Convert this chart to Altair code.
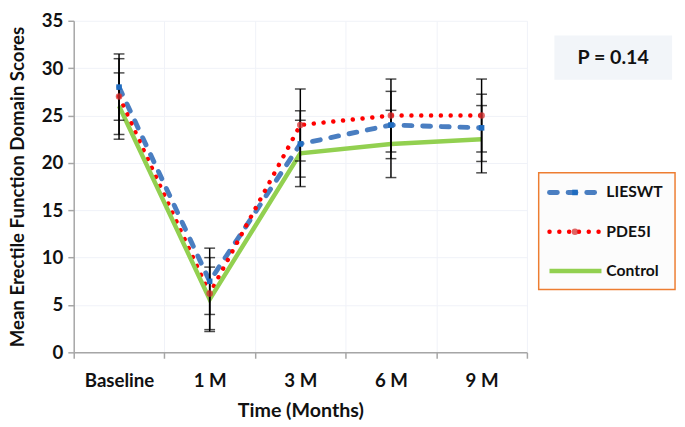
import altair as alt
import pandas as pd

# ---- data ----
times = ["Baseline", "1 M", "3 M", "6 M", "9 M"]
groups = ["LIESWT", "PDE5I", "Control"]
lieswt_mean = [28.0, 7.5, 22.0, 24.0, 23.7]
lieswt_sd = [3.5, 3.5, 3.5, 3.55, 3.55]
pde5i_mean = [27.0, 6.2, 24.0, 25.0, 25.0]
pde5i_sd = [4.0, 3.8, 3.8, 3.85, 3.85]
control_mean = [26.0, 5.6, 21.0, 22.0, 22.5]
control_sd = [3.5, 3.4, 3.5, 3.55, 3.55]
p_label = "P = 0.14"

means = {"LIESWT": lieswt_mean, "PDE5I": pde5i_mean, "Control": control_mean}
sds = {"LIESWT": lieswt_sd, "PDE5I": pde5i_sd, "Control": control_sd}

rows = []
for g in groups:
    for i, t in enumerate(times):
        m, s = means[g][i], sds[g][i]
        rows.append({"group": g, "time": t, "pos": i, "mean": m, "lo": m - s, "hi": m + s})
df = pd.DataFrame(rows)

styles = {
    "LIESWT": dict(color="#4A7EC1", strokeWidth=5, strokeDash=[8, 11], strokeCap="round"),
    "PDE5I": dict(color="#FF0000", strokeWidth=4.5, strokeDash=[0.1, 9.9], strokeCap="round"),
    "Control": dict(color="#92D050", strokeWidth=4.5, strokeCap="butt"),
}
markers = {
    "LIESWT": dict(shape="square", color="#1F6CC0", size=32, opacity=1),
    "PDE5I": dict(shape="circle", color="#D83030", size=45, opacity=0.75),
}

FONT = "Lato"
names_js = "['Baseline','1 M','3 M','6 M','9 M']"
no_view = alt.ViewBackground(stroke="transparent", strokeWidth=0, fill="transparent")

x_enc = alt.X(
    "pos:Q",
    scale=alt.Scale(domain=[-0.5, 4.5], nice=False, zero=False),
    axis=alt.Axis(
        values=[-0.5, 0, 0.5, 1, 1.5, 2, 2.5, 3, 3.5, 4, 4.5],
        labelExpr=f"datum.value % 1 == 0 ? {names_js}[datum.value] : ''",
        tickColor=alt.condition("datum.value % 1 == 0", alt.value("transparent"), alt.value("#A6A6A6")),
        gridColor=alt.condition("datum.value % 1 == 0", alt.value("transparent"), alt.value("#F0F2F8")),
        grid=True,
        tickSize=6,
        tickWidth=1.5,
        domainColor="#A6A6A6",
        domainWidth=1.5,
        labelFont=FONT,
        labelFontWeight="bold",
        labelFontSize=19,
        labelColor="#111111",
        labelPadding=14,
        labelFlush=False,
        title="Time (Months)",
        titleFont=FONT,
        titleFontWeight="bold",
        titleFontSize=20,
        titleColor="#111111",
        titlePadding=10,
    ),
)
y_scale = alt.Scale(domain=[0, 35], nice=False)
y_axis = alt.Axis(
    values=[0, 5, 10, 15, 20, 25, 30, 35],
    grid=True,
    gridColor="#F0F2F8",
    tickColor="#A6A6A6",
    tickSize=6,
    tickWidth=1.5,
    domainColor="#A6A6A6",
    domainWidth=1.5,
    labelFont=FONT,
    labelFontWeight="bold",
    labelFontSize=19,
    labelColor="#111111",
    labelPadding=5,
    title="Mean Erectile Function Domain Scores",
    titleFont=FONT,
    titleFontWeight="bold",
    titleFontSize=19,
    titleColor="#111111",
    titlePadding=14,
)

base = alt.Chart(df)
layers = []
for g in groups:
    st = styles[g]
    layers.append(
        base.transform_filter(alt.datum.group == g)
        .mark_line(**st)
        .encode(x=x_enc, y=alt.Y("mean:Q", scale=y_scale, axis=y_axis))
    )
# error bars
layers.append(
    base.mark_rule(color="#000000", strokeWidth=1.5).encode(
        x="pos:Q", y="lo:Q", y2="hi:Q"
    )
)
layers.append(
    base.mark_tick(color="#000000", orient="horizontal", size=11, thickness=1.5).encode(
        x="pos:Q", y="lo:Q"
    )
)
layers.append(
    base.mark_tick(color="#000000", orient="horizontal", size=11, thickness=1.5).encode(
        x="pos:Q", y="hi:Q"
    )
)
for g, mk in markers.items():
    layers.append(
        base.transform_filter(alt.datum.group == g)
        .mark_point(filled=True, shape=mk["shape"], color=mk["color"], size=mk["size"], opacity=mk["opacity"])
        .encode(x="pos:Q", y="mean:Q")
    )

main = alt.layer(*layers).properties(width=462, height=338, view=no_view)

# ---- side panel: P value box and legend ----
legend_df = pd.DataFrame({"group": groups})
p_df = pd.DataFrame({"label": [p_label]})
ly = alt.Y("group:N", scale=alt.Scale(type="point", domain=groups, range=[175, 255], padding=0), axis=None)

side_layers = [
    alt.Chart(p_df).mark_rect(color="#F2F5F9").encode(
        x=alt.value(20), x2=alt.value(140), y=alt.value(15), y2=alt.value(60)
    ),
    alt.Chart(p_df).mark_text(font=FONT, fontWeight="bold", fontSize=20, color="#111111").encode(
        text="label:N", x=alt.value(80), y=alt.value(38)
    ),
    alt.Chart(p_df).mark_rect(fill="#FCFCFC", stroke="#ED7D31", strokeWidth=1.5).encode(
        x=alt.value(4), x2=alt.value(143), y=alt.value(155), y2=alt.value(274)
    ),
]
for g in groups:
    st = styles[g]
    side_layers.append(
        alt.Chart(legend_df).transform_filter(alt.datum.group == g)
        .mark_rule(**st)
        .encode(x=alt.value(15), x2=alt.value(68), y=ly)
    )
for g, mk in markers.items():
    side_layers.append(
        alt.Chart(legend_df).transform_filter(alt.datum.group == g)
        .mark_point(filled=True, shape=mk["shape"], color=mk["color"], size=mk["size"], opacity=mk["opacity"])
        .encode(x=alt.value(41), y=ly)
    )
side_layers.append(
    alt.Chart(legend_df).mark_text(
        font=FONT, fontWeight="bold", fontSize=16, color="#111111", align="left", baseline="middle"
    ).encode(text="group:N", x=alt.value(73), y=ly)
)
side = alt.layer(*side_layers).properties(width=145, height=338, view=no_view)

chart = (
    alt.hconcat(main, side, spacing=7)
    .properties(padding=0)
    .configure_view(stroke="transparent", strokeWidth=0)
    .configure(background="white")
)

chart.save("out.html", embed_options={"renderer": "svg", "actions": False})
